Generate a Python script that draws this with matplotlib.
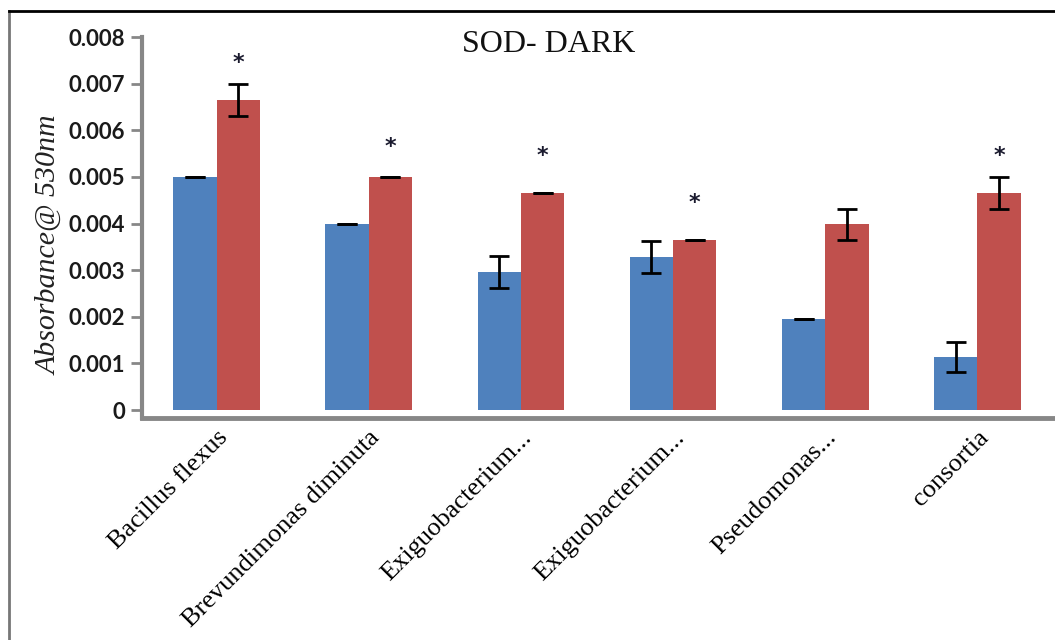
import matplotlib.pyplot as plt
import numpy as np

# data
strains = ['Bacillus flexus', 'Brevundimonas diminuta', 'Exiguobacterium...',
           'Exiguobacterium...', 'Pseudomonas...', 'consortia']
blue_vals = [0.0050, 0.0040, 0.00296, 0.00328, 0.00195, 0.00114]
blue_err = [0.0, 0.0, 0.00034, 0.00035, 0.0, 0.00033]
red_vals = [0.00665, 0.0050, 0.00465, 0.00364, 0.00398, 0.00465]
red_err = [0.00034, 0.0, 0.0, 0.0, 0.00033, 0.00034]
star_groups = [0, 1, 2, 3, 5]
star_y = [0.00745, 0.00565, 0.00545, 0.00445, 0.00545]

blue = '#4F81BD'
red = '#C0504D'
axis_gray = '#878787'

fig = plt.figure(figsize=(10.55, 6.4), dpi=100)
ax = fig.add_axes([142 / 1055, 1 - 418 / 640, 1 - 142 / 1055, (418 - 37) / 640])

x = np.arange(len(strains))
w = 0.285
ax.bar(x - w / 2, blue_vals, w, color=blue, zorder=2)
ax.bar(x + w / 2, red_vals, w, color=red, zorder=2)
ax.errorbar(x - w / 2, blue_vals, yerr=blue_err, fmt='none', ecolor='black',
            elinewidth=2, capsize=7, capthick=2, zorder=3)
ax.errorbar(x + w / 2, red_vals, yerr=red_err, fmt='none', ecolor='black',
            elinewidth=2, capsize=7, capthick=2, zorder=3)

for g, sy in zip(star_groups, star_y):
    ax.text(x[g] + w / 2, sy, '*', ha='center', va='center', fontsize=16,
            fontweight='bold', color='#1a1a2e')

ax.set_xlim(-0.49, 5.51)
ax.set_ylim(-0.00017, 0.008)
ax.set_yticks(np.arange(0, 0.0081, 0.001))
ax.set_yticklabels(['0', '0.001', '0.002', '0.003', '0.004', '0.005',
                    '0.006', '0.007', '0.008'])
ax.tick_params(axis='y', length=8, width=2, color=axis_gray, pad=4,
               labelsize=16, labelcolor='#1a1a1a')
for lab in ax.get_yticklabels():
    lab.set_fontfamily('Lato')
    lab.set_fontweight('bold')
ax.set_xticks(x)
ax.set_xticklabels(strains, rotation=45, ha='right', va='top',
                   rotation_mode='anchor', fontfamily='Liberation Serif', fontsize=19)
ax.tick_params(axis='x', length=0, pad=6)

ax.spines['top'].set_visible(False)
ax.spines['right'].set_visible(False)
ax.spines['left'].set_color(axis_gray)
ax.spines['left'].set_linewidth(3)
ax.spines['left'].set_bounds(-0.00017, 0.008)
ax.spines['bottom'].set_color(axis_gray)
ax.spines['bottom'].set_linewidth(3.5)

ax.set_ylabel('Absorbance@ 530nm', fontfamily='Liberation Serif', style='italic',
              fontsize=21.5, color='#222222', va='center', ha='center')
ax.yaxis.set_label_coords(-0.1008, 0.454)
fig.text(549 / 1055, 1 - 45 / 640, 'SOD- DARK', ha='center', va='center',
         fontfamily='Liberation Serif', fontsize=23, color='#111111')

# frame lines of the original figure
fig.add_artist(plt.Line2D([9 / 1055, 9 / 1055], [0, 1 - 11 / 640],
                          color='#777777', lw=2, transform=fig.transFigure))
fig.add_artist(plt.Line2D([9 / 1055, 1], [1 - 11 / 640, 1 - 11 / 640],
                          color='black', lw=2, transform=fig.transFigure))

fig.savefig('out.png', dpi=100)
